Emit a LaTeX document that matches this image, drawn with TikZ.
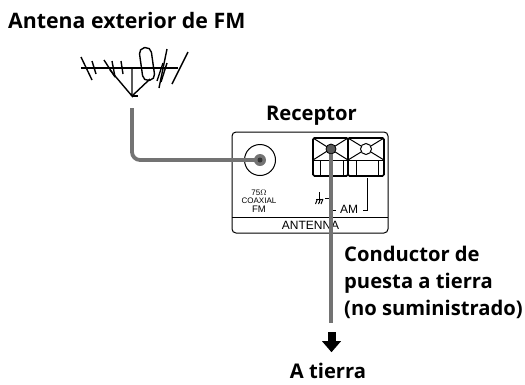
\documentclass[tikz,border=0pt]{standalone}
\usepackage{fontspec}
\setmainfont{Open Sans}
\newfontfamily\panelfont{Liberation Sans}
\usetikzlibrary{positioning}
\definecolor{wiregray}{gray}{0.45}
\tikzset{
  heading/.style={font=\fontsize{20.2}{27}\selectfont\bfseries, align=left, inner sep=0pt},
  panellabel/.style={font=\panelfont\fontsize{12}{12}\selectfont, inner sep=0pt},
  tinylabel/.style={font=\panelfont\fontsize{8}{8.7}\selectfont, align=center, inner sep=0pt},
  thinline/.style={draw=black, line width=1pt},
  element/.style={draw=black, line width=1.4pt},
  terminal/.style={draw=black, line width=1.6pt, rounded corners=1.5pt, minimum height=38pt, inner sep=0pt},
  wire/.style={draw=wiregray, line width=3.8pt, rounded corners=8pt}
}

\begin{document}
\begin{tikzpicture}[x=1pt, y=-1pt]
  \useasboundingbox (0,0) rectangle (525,384);
  % labels
  \node[heading, font=\fontsize{21.3}{27}\selectfont\bfseries, anchor=base west] (antenatitle) at (8,28) {Antena exterior de FM};
  \node[heading, anchor=base] (receptortitle) at (311.5,120) {Receptor};
  \node[heading, anchor=base west] (conductor) at (344,315) {Conductor de\\puesta a tierra\\(no suministrado)};
  \node[heading, anchor=base] (tierratitle) at (328,378.5) {A tierra};
  % antenna
  \coordinate (boomleft) at (81,68);
  \coordinate (boomright) at (178,68);
  \coordinate (feed) at (132,96);
  \draw[element] (boomleft) -- (boomright);
  \draw[element] (132,68) -- (feed) -- (110,70);
  \draw[element] (feed) -- (150,79);
  \draw[element] (feed) -- (138,96);
  \draw[element] (81,57) -- (92,80);
  \draw[element] (92,61) -- (96,74);
  \draw[element] (104,60) -- (115,77);
  \draw[element] (112,61) -- (115,77);
  \draw[element] (121,61) -- (123,74);
  \draw[element] (167,49) -- (159,88);
  \draw[element] (163,63) -- (157,81);
  \draw[element] (167,63) -- (161,82);
  \draw[element] (188,52) -- (172,84);
  \node[element, rotate=8, minimum width=12pt, minimum height=33pt, rounded corners=5.5pt, inner sep=0pt] (dipole) at (147,64) {};
  % receiver panel
  \node[draw=black, line width=1pt, rounded corners=4pt, minimum width=156pt, minimum height=101pt, inner sep=0pt] (panel) at (310,182.5) {};
  \draw[thinline] (232,217) -- (388,217);
  \node[panellabel] (antenna) at (310.5,225.5) {ANTENNA};
  \node[tinylabel] (coaxlabel) at (259,201) {75$\Omega$\\COAXIAL\\{\fontsize{9.5}{9.5}\selectfont FM}};
  % terminals
  \node[terminal, minimum width=35pt] (termleft) at (330.5,157) {};
  \node[terminal, minimum width=36pt] (termright) at (366,157) {};
  \draw[thinline] (313,160) -- (384,160);
  \draw[thinline] (313,138) -- (348,160) (313,160) -- (348,138);
  \draw[thinline] (348,138) -- (384,160) (348,160) -- (384,138);
  \draw[thinline] (320,160) rectangle (343,176);
  \draw[thinline] (356,160) rectangle (378,176);
  \node[circle, draw=black, fill=white, line width=1pt, minimum size=11pt, inner sep=0pt] (screwright) at (366,149) {};
  % brackets and earth mark
  \node[panellabel] (amlabel) at (349,209.5) {AM};
  \coordinate (groundmark) at (325,198);
  \draw[thinline] (331,176) -- (331,210) -- (336,210);
  \draw[thinline] (331,198) -- (groundmark);
  \draw[thinline] (319,192) -- (319,203) (316,199) -- (323,199);
  \draw[thinline] (315.5,204) -- (317.5,199) (318.5,204) -- (320.5,199) (321,204) -- (323,199);
  \draw[thinline] (367,178) -- (367,210) -- (363,210);
  % coax socket and wires
  \node[circle, draw=black, line width=1pt, minimum size=31pt, inner sep=0pt] (socket) at (260,160) {};
  \coordinate (wirecorner) at (132,160);
  \coordinate (feedend) at (132,108);
  \draw[wire] (feedend) -- (wirecorner) -- (socket.center);
  \node[circle, fill=wiregray, minimum size=12pt, inner sep=0pt] (socketdot) at (socket.center) {};
  \node[circle, fill=black!80, minimum size=5pt, inner sep=0pt] (socketpin) at (socket.center) {};
  \node[circle, draw=black, fill=black!65, line width=0.8pt, minimum size=10pt, inner sep=0pt] (screwleft) at (331,149) {};
  \coordinate (groundend) at (331,323);
  \draw[wire] (screwleft) -- (groundend);
  % arrow to earth
  \node[fill=black, minimum width=8pt, minimum height=9pt, inner sep=0pt] (arrowstem) at (331.5,336.5) {};
  \fill[black] (arrowstem.south) ++(-9.5,0) -- ++(19,0) -- ++(-9.5,11) -- cycle;
\end{tikzpicture}
\end{document}
